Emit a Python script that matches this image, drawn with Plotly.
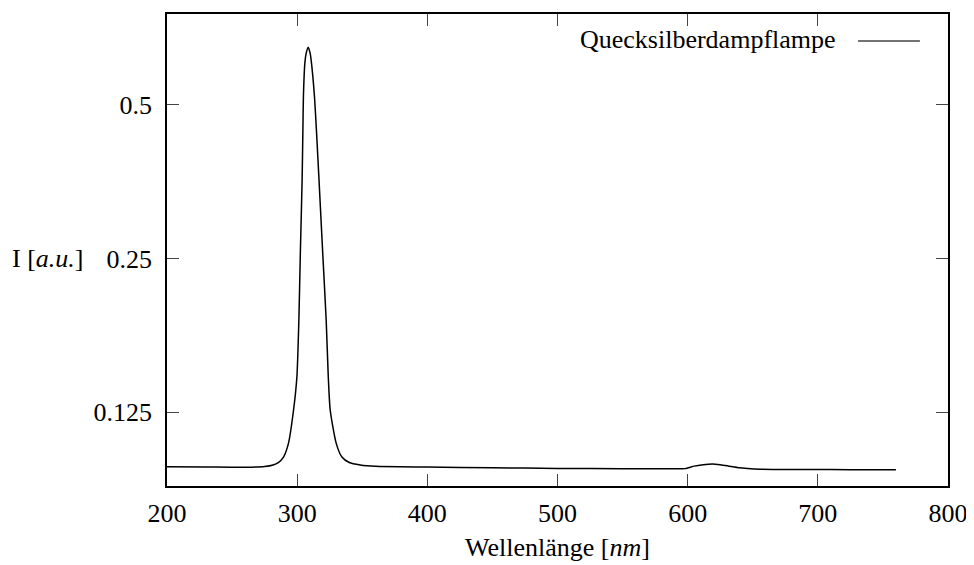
import plotly.graph_objects as go
import math

wavelength = [200, 230, 260, 275, 281.5, 285.5, 289.5, 293.3, 297.2, 299.8, 301.3, 302.5,
              303.8, 304.4, 304.8, 305.9, 306.9, 308.5, 310.0, 311.0, 313.3, 314.8, 316.8,
              319.5, 322.3, 323.9, 325.4, 330.0, 334.4, 340, 348.5, 360, 400, 450, 500, 550,
              590, 598, 605, 612, 619, 625, 631, 640, 651, 680, 710, 740, 760]
intensity = [0.0976, 0.0975, 0.0974, 0.0977, 0.0984, 0.0995, 0.102, 0.1085, 0.126, 0.1466,
             0.189, 0.260, 0.356, 0.446, 0.519, 0.604, 0.631, 0.649, 0.631, 0.604, 0.519,
             0.446, 0.356, 0.260, 0.189, 0.1466, 0.126, 0.1085, 0.102, 0.0995, 0.0984, 0.0978,
             0.0975, 0.0972, 0.0969, 0.0968, 0.0967, 0.0968, 0.0979, 0.0985, 0.0988, 0.0985,
             0.0980, 0.0972, 0.0966, 0.0964, 0.0964, 0.0963, 0.0963]

x_ticks = [200, 300, 400, 500, 600, 700, 800]
y_ticks = [0.125, 0.25, 0.5]
y_tick_labels = ["0.125", "0.25", "0.5"]
series_name = "Quecksilberdampflampe"

FONT = "Liberation Serif"
FS = 26

fig = go.Figure()
fig.add_trace(go.Scatter(x=wavelength, y=intensity, mode="lines",
                         line=dict(color="black", width=1.5, shape="spline", smoothing=0.6),
                         name=series_name, showlegend=False))

axis_common = dict(showgrid=False, zeroline=False, showline=True, linecolor="black",
                   linewidth=1.5, mirror="allticks", ticks="inside", ticklen=12,
                   tickcolor="#444", tickwidth=1,
                   tickfont=dict(family=FONT, size=FS, color="black"))

fig.update_xaxes(range=[200, 800], tickvals=x_ticks, ticklabelstandoff=3, **axis_common)
fig.update_yaxes(type="log", range=[math.log10(0.0895), math.log10(0.754)],
                 tickvals=y_ticks, ticktext=y_tick_labels, ticklabelstandoff=8, **axis_common)

fig.add_annotation(text="Wellenlänge [<i>nm</i>]", xref="paper", yref="paper",
                   x=0.5, y=-0.131, xanchor="center", yanchor="middle", showarrow=False,
                   font=dict(family=FONT, size=FS, color="black"))
fig.add_annotation(text="I [<i>a.u.</i>]", xref="paper", yref="paper",
                   x=-0.152, y=0.481, xanchor="center", yanchor="middle", showarrow=False,
                   font=dict(family=FONT, size=FS, color="black"))
fig.add_annotation(text=series_name, xref="paper", yref="paper",
                   x=0.859, y=0.945, xanchor="right", yanchor="middle", showarrow=False,
                   font=dict(family=FONT, size=FS, color="black"))
fig.add_shape(type="line", xref="paper", yref="paper", x0=0.8848, x1=0.964,
              y0=0.9428, y1=0.9428, line=dict(color="#444", width=1.5))

# page body adds an 8px margin; compensate so the plot frame lands at 167..948 x 14..486
fig.update_layout(width=966, height=557, margin=dict(l=159, r=26, t=6, b=79, autoexpand=False),
                  plot_bgcolor="white", paper_bgcolor="white", showlegend=False)

fig.write_html("out.html")
